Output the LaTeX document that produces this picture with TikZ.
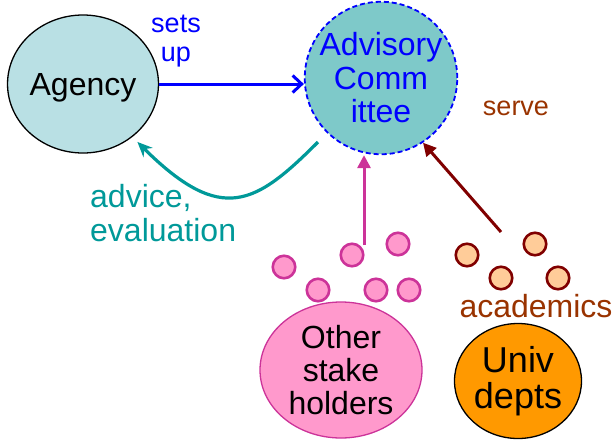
\documentclass[tikz,border=0pt]{standalone}
\usepackage{fontspec}
\setmainfont{Liberation Sans}
\usetikzlibrary{shapes.geometric, arrows.meta}

\definecolor{agencyfill}{RGB}{185,224,228}
\definecolor{committeefill}{RGB}{126,201,201}
\definecolor{tealline}{RGB}{0,153,153}
\definecolor{pinkline}{RGB}{204,51,153}
\definecolor{pinkfill}{RGB}{255,153,204}
\definecolor{maroonline}{RGB}{128,0,0}
\definecolor{peachfill}{RGB}{255,204,153}
\definecolor{orangefill}{RGB}{255,153,0}
\definecolor{browntext}{RGB}{153,51,0}

\begin{document}
\begin{tikzpicture}[x=1pt, y=-1pt,
    blob/.style={ellipse, draw=#1, line width=1.3pt, inner sep=0pt, align=center,
                 font=\fontsize{32}{33}\selectfont},
    person/.style={circle, draw=#1, line width=2.6pt, minimum size=22.5pt, inner sep=0pt},
    tag/.style={inner sep=0pt, align=center, font=\fontsize{#1}{29}\selectfont},
    link/.style={line width=3pt, -{Triangle[length=13pt, width=13pt]}}
]
    \useasboundingbox (0,0) rectangle (613,440);

    % Main bodies
    \node[blob=black, fill=agencyfill, minimum width=150pt, minimum height=138pt,
          text depth=0pt] (agency) at (83,84) {Agency};
    \node[circle, draw=blue, line width=1.8pt, dash pattern=on 5pt off 3pt, fill=committeefill,
          minimum size=149pt, inner sep=0pt, align=center, text=blue,
          font=\fontsize{32}{33.5}\selectfont] (committee) at (381,78) {Advisory\\Comm\\ittee};
    \node[blob=pinkline, fill=pinkfill, minimum width=162pt, minimum height=136pt] (others) at (341,370) {Other\\stake\\holders};
    \node[blob=black, fill=orangefill, minimum width=127pt, minimum height=115pt,
          font=\fontsize{36}{36}\selectfont] (univ) at (518,381) {Univ\\depts};

    % Stake holders
    \node[person=pinkline, fill=pinkfill] (s1) at (284,267) {};
    \node[person=pinkline, fill=pinkfill] (s2) at (318,290) {};
    \node[person=pinkline, fill=pinkfill] (s3) at (352,255) {};
    \node[person=pinkline, fill=pinkfill] (s4) at (398,244) {};
    \node[person=pinkline, fill=pinkfill] (s5) at (376,290) {};
    \node[person=pinkline, fill=pinkfill] (s6) at (409,290) {};

    % Academics
    \node[person=maroonline, fill=peachfill] (a1) at (467,255) {};
    \node[person=maroonline, fill=peachfill] (a2) at (535,244) {};
    \node[person=maroonline, fill=peachfill] (a3) at (501,278) {};
    \node[person=maroonline, fill=peachfill] (a4) at (558,278) {};

    % Labels
    \node[tag=27, text=blue] (setsup) at (176,41) {sets\\up};
    \node[tag=32, text=tealline, align=left, anchor=west, font=\fontsize{32}{34}\selectfont] (advice) at (90,213) {advice,\\evaluation};
    \node[tag=27, text=browntext, anchor=base] (serve) at (516,115) {serve};
    \node[tag=32, text=browntext, anchor=base] (academics) at (536,317) {academics};

    % Connectors
    \coordinate (advicefrom) at (318,142);
    \coordinate (pinkfoot) at (364,245);
    \coordinate (redfoot) at (501,232);
    \draw[line width=3pt, blue, -{Straight Barb[length=9pt, width=17pt]}]
        (agency.east) -- (agency.east -| committee.west);
    \draw[line width=3.2pt, tealline, -{Stealth[length=15pt, width=13pt]}, shorten >=7pt]
        (advicefrom) .. controls (256,204) and (222,226) .. (agency.-47);
    \draw[link, pinkline] (pinkfoot) -- (pinkfoot |- committee.south);
    \draw[link, maroonline] (redfoot) -- (committee.-57);
\end{tikzpicture}
\end{document}
